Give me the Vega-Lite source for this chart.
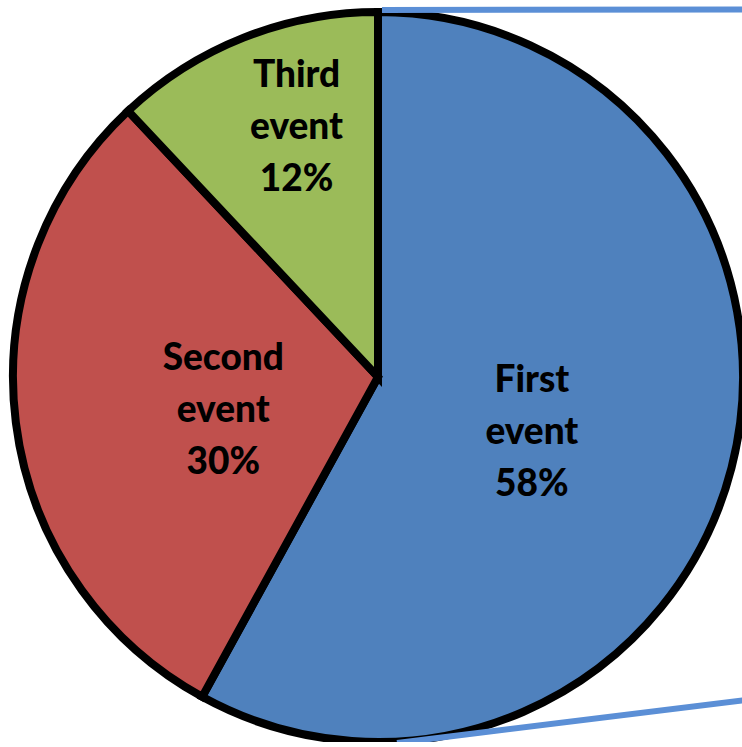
{
  "$schema": "https://vega.github.io/schema/vega-lite/v6.json",
  "width": 730,
  "height": 730,
  "autosize": "none",
  "padding": {"left": 13, "top": 12, "right": 0, "bottom": 0},
  "background": "white",
  "config": {"view": {"stroke": null}},
  "datasets": {
    "slices": [
      {"category": "First event", "value": 58, "label": "First\nevent\n58%"},
      {"category": "Second event", "value": 30, "label": "Second\nevent\n30%"},
      {"category": "Third event", "value": 12, "label": "Third\nevent\n12%"}
    ],
    "connectors": [
      {"x": 369, "y": -2, "x2": 735, "y2": -2.5},
      {"x": 384, "y": 731, "x2": 737, "y2": 687.5}
    ]
  },
  "layer": [
    {
      "data": {"name": "slices"},
      "mark": {"type": "arc", "stroke": "black", "strokeWidth": 8},
      "encoding": {
        "theta": {"field": "value", "type": "quantitative", "stack": true},
        "color": {
          "field": "category",
          "type": "nominal",
          "scale": {"domain": ["First event", "Second event", "Third event"], "range": ["#4F81BD", "#C0504D", "#9BBB59"]},
          "legend": null
        }
      }
    },
    {
      "data": {"name": "slices"},
      "mark": {"type": "text", "radius": 164, "dx": -5, "dy": -37, "font": "Lato", "fontWeight": 900, "fontSize": 37, "lineHeight": 52, "lineBreak": "\n", "align": "center", "baseline": "middle", "color": "black"},
      "encoding": {
        "theta": {"field": "value", "type": "quantitative", "stack": true},
        "detail": {"field": "category", "type": "nominal"},
        "text": {"condition": {"test": "datum.category === 'First event'", "field": "label"}, "value": ""}
      }
    },
    {
      "data": {"name": "slices"},
      "mark": {"type": "text", "radius": 158, "dx": 2, "dy": -38, "font": "Lato", "fontWeight": 900, "fontSize": 37, "lineHeight": 52, "lineBreak": "\n", "align": "center", "baseline": "middle", "color": "black"},
      "encoding": {
        "theta": {"field": "value", "type": "quantitative", "stack": true},
        "detail": {"field": "category", "type": "nominal"},
        "text": {"condition": {"test": "datum.category === 'Second event'", "field": "label"}, "value": ""}
      }
    },
    {
      "data": {"name": "slices"},
      "mark": {"type": "text", "radius": 262, "dx": 15, "dy": -57, "font": "Lato", "fontWeight": 900, "fontSize": 37, "lineHeight": 52, "lineBreak": "\n", "align": "center", "baseline": "middle", "color": "black"},
      "encoding": {
        "theta": {"field": "value", "type": "quantitative", "stack": true},
        "detail": {"field": "category", "type": "nominal"},
        "text": {"condition": {"test": "datum.category === 'Third event'", "field": "label"}, "value": ""}
      }
    },
    {
      "data": {"name": "connectors"},
      "mark": {"type": "rule", "color": "#5B8FD6", "strokeWidth": 6},
      "encoding": {
        "x": {"field": "x", "type": "quantitative", "scale": {"domain": [0, 730], "nice": false, "zero": false}, "axis": null},
        "y": {"field": "y", "type": "quantitative", "scale": {"domain": [0, 730], "nice": false, "zero": false, "reverse": true}, "axis": null},
        "x2": {"field": "x2"},
        "y2": {"field": "y2"}
      }
    }
  ]
}
